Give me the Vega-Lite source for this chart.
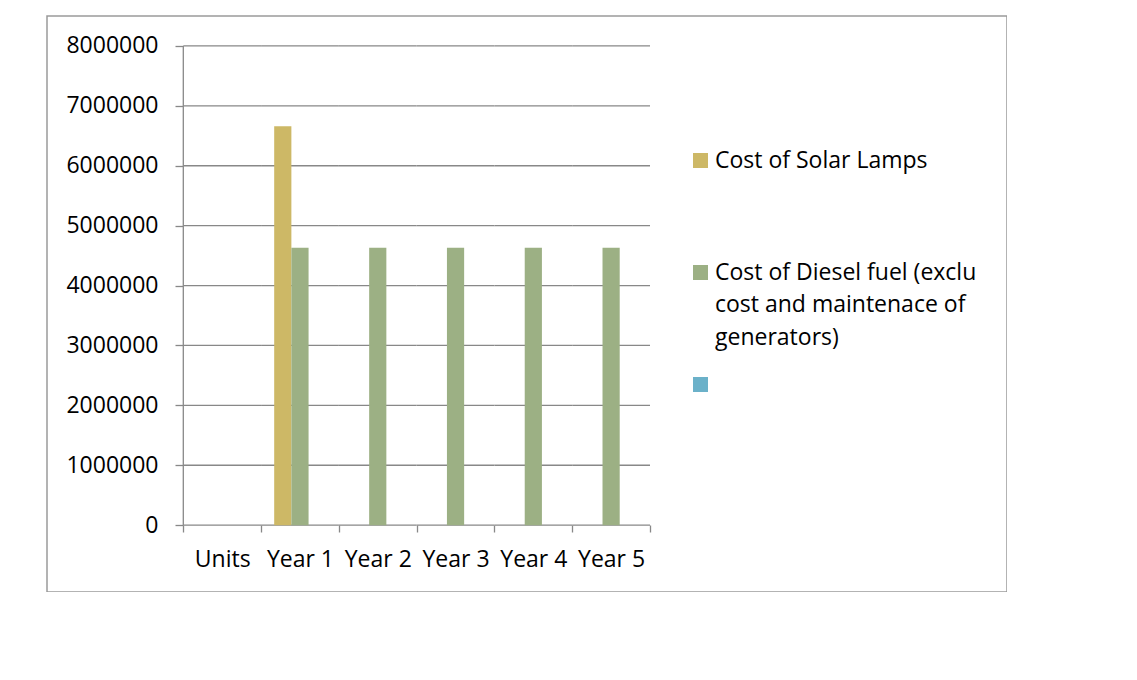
{
  "$schema": "https://vega.github.io/schema/vega-lite/v6.json",
  "width": 960,
  "height": 576,
  "padding": {"left": 47, "top": 16, "right": 0, "bottom": 0},
  "background": "white",
  "config": {
    "view": {"stroke": "#9a9a9a", "strokeWidth": 1.5},
    "font": "Open Sans",
    "axis": {"labelFont": "Open Sans", "labelColor": "#000000", "labelFontSize": 23},
    "style": {"guide-label": {"lineHeight": 32.5}}
  },
  "datasets": {
    "costs": [
      {"cat": "Year 1", "series": "Cost of Solar Lamps", "v": 6660000},
      {"cat": "Year 1", "series": "Cost of Diesel fuel (exclu cost and maintenace of generators)", "v": 4630000},
      {"cat": "Year 2", "series": "Cost of Diesel fuel (exclu cost and maintenace of generators)", "v": 4630000},
      {"cat": "Year 3", "series": "Cost of Diesel fuel (exclu cost and maintenace of generators)", "v": 4630000},
      {"cat": "Year 4", "series": "Cost of Diesel fuel (exclu cost and maintenace of generators)", "v": 4630000},
      {"cat": "Year 5", "series": "Cost of Diesel fuel (exclu cost and maintenace of generators)", "v": 4630000}
    ],
    "grid": [
      {"cat": "Units", "v": [0, 1000000, 2000000, 3000000, 4000000, 5000000, 6000000, 7000000, 8000000]},
      {"cat": "Year 1", "v": [0, 1000000, 2000000, 3000000, 4000000, 5000000, 6000000, 7000000, 8000000]},
      {"cat": "Year 2", "v": [0, 1000000, 2000000, 3000000, 4000000, 5000000, 6000000, 7000000, 8000000]},
      {"cat": "Year 3", "v": [0, 1000000, 2000000, 3000000, 4000000, 5000000, 6000000, 7000000, 8000000]},
      {"cat": "Year 4", "v": [0, 1000000, 2000000, 3000000, 4000000, 5000000, 6000000, 7000000, 8000000]},
      {"cat": "Year 5", "v": [0, 1000000, 2000000, 3000000, 4000000, 5000000, 6000000, 7000000, 8000000]}
    ],
    "yline": [{"cat": "Units", "v": 8000000}]
  },
  "encoding": {
    "x": {
      "field": "cat",
      "type": "nominal",
      "scale": {
        "domain": ["Units", "Year 1", "Year 2", "Year 3", "Year 4", "Year 5"],
        "paddingInner": 0,
        "paddingOuter": 0,
        "range": [136.3, 603]
      },
      "axis": {
        "title": null,
        "tickBand": "extent",
        "offset": -67,
        "domain": false,
        "grid": false,
        "tickSize": 7,
        "tickColor": "#888888",
        "tickWidth": 1.3,
        "labelAngle": 0,
        "labelPadding": 16
      }
    },
    "y": {
      "field": "v",
      "type": "quantitative",
      "scale": {"domain": [-1116000, 8500000], "nice": false, "zero": false},
      "axis": {
        "title": null,
        "values": [0, 1000000, 2000000, 3000000, 4000000, 5000000, 6000000, 7000000, 8000000],
        "format": "d",
        "offset": -136,
        "domain": false,
        "grid": false,
        "tickSize": 8,
        "tickColor": "#888888",
        "tickWidth": 1.3,
        "labelPadding": 17
      }
    }
  },
  "layer": [
    {
      "data": {"name": "grid"},
      "transform": [{"flatten": ["v"]}],
      "mark": {"type": "rect", "fill": null, "stroke": "#888888", "strokeWidth": 1.3},
      "encoding": {"y2": {"field": "v"}}
    },
    {
      "data": {"name": "costs"},
      "mark": {"type": "bar"},
      "encoding": {
        "y2": {"datum": 0},
        "xOffset": {
          "field": "series",
          "type": "nominal",
          "scale": {
            "domain": ["Cost of Solar Lamps", "Cost of Diesel fuel (exclu cost and maintenace of generators)", "Series 3"],
            "paddingInner": 0,
            "paddingOuter": 0.762
          }
        },
        "color": {
          "field": "series",
          "type": "nominal",
          "scale": {
            "domain": ["Cost of Solar Lamps", "Cost of Diesel fuel (exclu cost and maintenace of generators)", "Series 3"],
            "range": ["#cdb866", "#9cb084", "#6bb1c9"]
          },
          "legend": {
            "orient": "none",
            "legendX": 642,
            "legendY": 133,
            "title": null,
            "padding": 0,
            "symbolType": "square",
            "symbolSize": 225,
            "symbolStrokeWidth": 0,
            "labelFont": "Open Sans",
            "labelFontSize": 23,
            "labelColor": "#000000",
            "labelOffset": 3,
            "labelLimit": 0,
            "rowPadding": 23,
            "labelExpr": "datum.label == 'Series 3' ? ['', '', ''] : (datum.label == 'Cost of Solar Lamps' ? ['Cost of Solar Lamps', '', ''] : ['Cost of Diesel fuel (exclu', 'cost and maintenace of', 'generators)'])"
          }
        }
      }
    },
    {
      "data": {"name": "yline"},
      "mark": {"type": "rule", "color": "#888888", "strokeWidth": 1.3},
      "encoding": {
        "x": {"field": "cat", "type": "nominal", "bandPosition": 0},
        "y2": {"datum": 0}
      }
    }
  ]
}
